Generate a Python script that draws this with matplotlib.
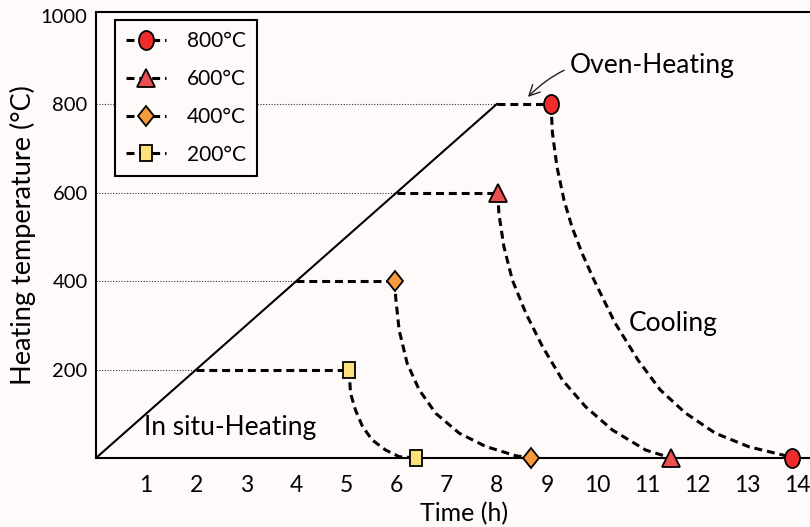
import numpy as np
import matplotlib
matplotlib.use("Agg")
import matplotlib.pyplot as plt
from matplotlib.markers import MarkerStyle
from matplotlib.transforms import Affine2D

plt.rcParams['font.family'] = ['Lato', 'DejaVu Sans']

# heating ramp (in situ-heating at 100 C/h up to 800 C)
ramp_time = [0, 8]
ramp_temp = [0, 800]

# hold temperatures and the time each sample leaves the oven
levels = [800, 600, 400, 200]
hold_end = [9.08, 8.02, 5.97, 5.05]
labels = ['800°C', '600°C', '400°C', '200°C']
colors = ['#ef2b2b', '#ee5050', '#f79a3c', '#fbe27a']

# cooling curves (time h, temperature C)
cool_800_t = [9.08, 9.11, 9.20, 9.34, 9.50, 9.70, 9.94, 10.36, 10.82, 11.26, 11.76, 12.36, 13.04, 13.70, 13.89]
cool_800_T = [800, 734, 658, 583, 522, 463, 402, 305, 221, 154, 102, 56, 25, 7, 0]
cool_600_t = [8.02, 8.04, 8.14, 8.31, 8.58, 8.91, 9.31, 9.77, 10.31, 10.97, 11.48]
cool_600_T = [600, 553, 478, 402, 327, 252, 176, 116, 63, 18, 0]
cool_400_t = [5.97, 5.98, 6.05, 6.21, 6.45, 6.78, 7.25, 7.78, 8.38, 8.69]
cool_400_T = [400, 364, 289, 214, 154, 101, 56, 26, 5, 0]
cool_200_t = [5.05, 5.08, 5.18, 5.32, 5.51, 5.78, 6.05, 6.39]
cool_200_T = [200, 146, 108, 71, 41, 18, 3, 0]
cool_t = [cool_800_t, cool_600_t, cool_400_t, cool_200_t]
cool_T = [cool_800_T, cool_600_T, cool_400_T, cool_200_T]

xticks = list(range(1, 15))
yticks = [200, 400, 600, 800, 1000]

# slightly tall markers
markers = [
    MarkerStyle('o', transform=Affine2D().scale(0.79, 1.0)),
    MarkerStyle('^', transform=Affine2D().scale(0.95, 1.0)),
    MarkerStyle('D', transform=Affine2D().scale(0.84, 1.0)),
    MarkerStyle('s', transform=Affine2D().scale(0.76, 1.0)),
]
msizes = [13.7, 13.0, 9.7, 12.2]

bg = '#fdfaf9'
fig = plt.figure(figsize=(8.1, 5.27), dpi=100, facecolor=bg)
ax = fig.add_axes([96 / 810, 1 - 458 / 527, 1 - 96 / 810, (458 - 12) / 527])
ax.set_facecolor(bg)

dash = dict(color='black', lw=2.2, dashes=(2.6, 1.6))

# ramp
ax.plot(ramp_time, ramp_temp, color='black', lw=1.5, zorder=3)

for lv, t_end, lab, c, m, ms, ct, cT in zip(levels, hold_end, labels, colors,
                                           markers, msizes, cool_t, cool_T):
    t_start = lv / 100.0
    # guide from the axis to the ramp
    ax.plot([0, t_start], [lv, lv], color='#333333', lw=0.8, ls=(0, (1, 1.5)), zorder=2)
    # hold + cooling
    ax.plot([t_start, t_end], [lv, lv], **dash, zorder=3)
    ax.plot(ct, cT, **dash, zorder=3)
    ax.plot([t_end, ct[-1]], [lv, 0], ls='none', marker=m, ms=ms,
            mfc=c, mec='black', mew=1.3, zorder=5, clip_on=False)
    # legend handle
    ax.plot([], [], **dash, marker=m, ms=ms, mfc=c, mec='black', mew=1.3, label=lab)

ax.annotate('Oven-Heating', xy=(8.62, 816), xytext=(9.45, 888),
            fontsize=19, va='center', ha='left',
            arrowprops=dict(arrowstyle='->', color='#222222', lw=1.0,
                            connectionstyle='arc3,rad=0.3', shrinkA=2, shrinkB=0))
ax.text(11.52, 305, 'Cooling', fontsize=19, ha='center', va='center')
ax.text(0.96, 68, 'In situ-Heating', fontsize=19, ha='left', va='center')

ax.set_xlim(0, 14.25)
ax.set_ylim(0, 1008)
ax.set_xticks(xticks)
ax.set_yticks(yticks)
ax.tick_params(axis='x', length=0, pad=12, labelsize=16.5)
ax.tick_params(axis='y', length=0, pad=6, labelsize=14.5)

ax.set_xlabel('Time (h)', fontsize=18)
ax.xaxis.set_label_coords(0.516, -0.098)
ax.set_ylabel('Heating temperature (°C)', fontsize=19.5)
ax.yaxis.set_label_coords(-0.084, 0.5)

ax.spines['right'].set_visible(False)
for s in ['left', 'top', 'bottom']:
    ax.spines[s].set_linewidth(1.5)

leg = ax.legend(loc='upper left', bbox_to_anchor=(0.0266, 0.982), borderaxespad=0,
                handlelength=1.9, handletextpad=1.0, labelspacing=0.85,
                borderpad=0.55, fancybox=False, framealpha=1,
                prop={'size': 15})
leg.get_frame().set_edgecolor('black')
leg.get_frame().set_linewidth(1.5)
leg.get_frame().set_facecolor(bg)

fig.savefig('out.png', dpi=100, facecolor=bg)
